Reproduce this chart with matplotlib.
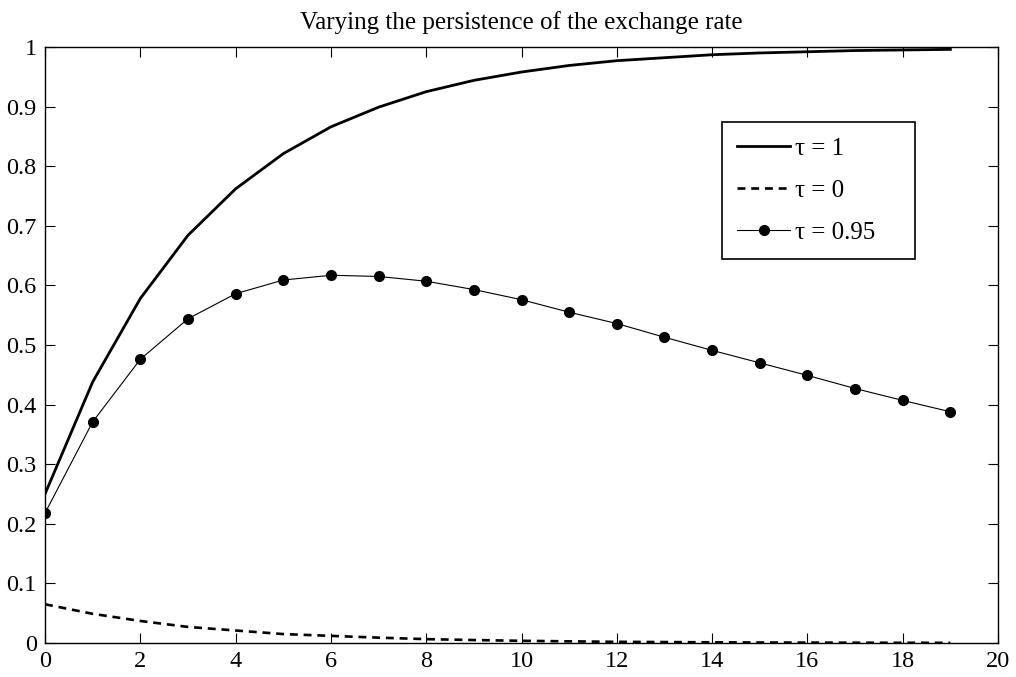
import numpy as np
import matplotlib
matplotlib.use('Agg')
import matplotlib.pyplot as plt

plt.rcParams['font.family'] = ['Liberation Serif', 'DejaVu Serif']

# Datos
periodos = np.arange(20)
tau_1 = [0.25, 0.438, 0.578, 0.684, 0.762, 0.821, 0.866, 0.899, 0.925, 0.944,
         0.958, 0.969, 0.977, 0.982, 0.987, 0.990, 0.992, 0.994, 0.995, 0.996]
tau_0 = [0.065, 0.049, 0.037, 0.027, 0.021, 0.015, 0.012, 0.009, 0.0065, 0.005,
         0.0037, 0.0028, 0.002, 0.0016, 0.0012, 0.0009, 0.0007, 0.0005, 0.0004, 0.0003]
tau_095 = [0.218, 0.371, 0.476, 0.544, 0.586, 0.609, 0.617, 0.615, 0.607, 0.593,
           0.576, 0.555, 0.536, 0.513, 0.491, 0.470, 0.449, 0.427, 0.407, 0.388]

etiquetas = ['\u03c4 = 1', '\u03c4 = 0', '\u03c4 = 0.95']
titulo = 'Varying the persistence of the exchange rate'

fig = plt.figure(figsize=(10.16, 6.77), dpi=100)
ax = fig.add_axes([0.0443, 0.0502, 0.938, 0.8804])

ax.plot(periodos, tau_1, color='black', linestyle='-', linewidth=2.0, label=etiquetas[0])
ax.plot(periodos, tau_0, color='black', linestyle=(0, (3, 2.2)), linewidth=1.9, label=etiquetas[1])
ax.plot(periodos, tau_095, color='black', linestyle='-', linewidth=0.8,
        marker='o', markersize=7, label=etiquetas[2])

ax.set_xlim(0, 20)
ax.set_ylim(0, 1)
ax.set_xticks(np.arange(0, 21, 2))
ax.set_yticks(np.arange(0, 1.01, 0.1))
ax.set_yticklabels(['0', '0.1', '0.2', '0.3', '0.4', '0.5', '0.6', '0.7', '0.8', '0.9', '1'])
ax.tick_params(direction='in', length=7, width=0.8, top=True, right=True,
               labelsize=17.5, pad=6)
for s in ax.spines.values():
    s.set_linewidth(1.0)

ax.set_title(titulo, fontsize=18, pad=13)

# Leyenda (estilo MATLAB: espacio extra a la derecha)
h, l = ax.get_legend_handles_labels()
l = [t + '\u2007' * 2 for t in l]
leg = ax.legend(h, l, loc='upper right', bbox_to_anchor=(0.913, 0.874), fontsize=18,
                fancybox=False, edgecolor='black', framealpha=1,
                handlelength=2.1, handletextpad=0.2, borderpad=0.6,
                borderaxespad=0, labelspacing=0.78)
leg.get_frame().set_linewidth(1.2)

fig.savefig('out.png', dpi=100)
